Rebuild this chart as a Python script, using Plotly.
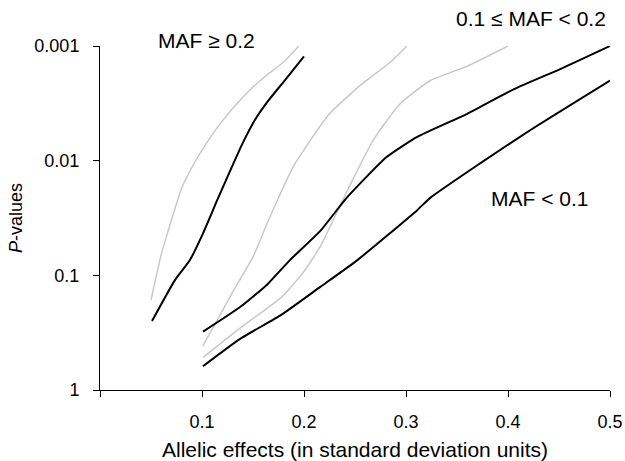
import plotly.graph_objects as go

# MAF >= 0.2
maf_hi_gray_x = [0.05, 0.06, 0.07, 0.08, 0.09, 0.10, 0.12, 0.14, 0.16, 0.18, 0.195]
maf_hi_gray_p = [0.164, 0.066, 0.033, 0.0174, 0.0115, 0.0081, 0.0045, 0.0028, 0.0019, 0.00138, 0.001]
maf_hi_black_x = [0.051, 0.0735, 0.088, 0.101, 0.115, 0.127, 0.140, 0.152, 0.165, 0.181, 0.20]
maf_hi_black_p = [0.25, 0.11, 0.074, 0.043, 0.022, 0.0126, 0.0070, 0.0044, 0.0030, 0.0020, 0.00123]

# 0.1 <= MAF < 0.2
maf_mid_gray_x = [0.101, 0.115, 0.131, 0.150, 0.164, 0.174, 0.189, 0.199, 0.225, 0.258, 0.284, 0.301]
maf_mid_gray_p = [0.41, 0.245, 0.135, 0.069, 0.035, 0.022, 0.0115, 0.0083, 0.0039, 0.0021, 0.0014, 0.001]

# MAF < 0.1
maf_lo_gray_x = [0.101, 0.137, 0.178, 0.199, 0.216, 0.238, 0.268, 0.294, 0.324, 0.36, 0.40]
maf_lo_gray_p = [0.52, 0.29, 0.155, 0.095, 0.056, 0.022, 0.0066, 0.0032, 0.002, 0.0015, 0.001]

# upper black (0.1 to 0.5)
black_a_x = [0.101, 0.137, 0.164, 0.186, 0.216, 0.242, 0.281, 0.311, 0.36, 0.405, 0.454, 0.50]
black_a_p = [0.31, 0.19, 0.12, 0.074, 0.041, 0.021, 0.0093, 0.0062, 0.0039, 0.0024, 0.00155, 0.001]

# lower black (0.1 to 0.5)
black_b_x = [0.101, 0.137, 0.178, 0.216, 0.252, 0.311, 0.324, 0.373, 0.422, 0.50]
black_b_p = [0.62, 0.36, 0.22, 0.126, 0.074, 0.027, 0.021, 0.0105, 0.0054, 0.002]

x_tickvals = [0, 0.1, 0.2, 0.3, 0.4, 0.5]
x_ticktext = ["", "0.1", "0.2", "0.3", "0.4", "0.5"]
y_tickvals = [1, 0.1, 0.01, 0.001]
y_ticktext = ["1", "0.1", "0.01", "0.001"]

GRAY = "#c8c8c8"
BLACK = "#000000"

fig = go.Figure()
for xs, ps, col, w in [
    (maf_hi_gray_x, maf_hi_gray_p, GRAY, 1.5),
    (maf_mid_gray_x, maf_mid_gray_p, GRAY, 1.5),
    (maf_lo_gray_x, maf_lo_gray_p, GRAY, 1.5),
    (maf_hi_black_x, maf_hi_black_p, BLACK, 2),
    (black_a_x, black_a_p, BLACK, 2),
    (black_b_x, black_b_p, BLACK, 2),
]:
    fig.add_trace(go.Scatter(x=xs, y=ps, mode="lines",
                             line=dict(color=col, width=w, shape="spline", smoothing=0.5),
                             showlegend=False, hoverinfo="skip", cliponaxis=False))

FONT = "Liberation Sans, Arial, sans-serif"
fig.update_layout(
    width=625, height=461,
    margin=dict(l=100, r=15, t=46, b=71, autoexpand=False),
    paper_bgcolor="white", plot_bgcolor="white",
    font=dict(family=FONT, size=18, color="black"),
    showlegend=False,
    hovermode=False,
    xaxis=dict(range=[0, 0.5], tickvals=x_tickvals, ticktext=x_ticktext,
               ticks="outside", ticklen=6, tickwidth=1, tickcolor="black",
               showline=True, linecolor="black", linewidth=1, showgrid=False,
               zeroline=False, tickfont=dict(size=18), automargin=False,
               ticklabelstandoff=9,
               title=dict(text="Allelic effects (in standard deviation units)",
                          font=dict(size=21), standoff=13)),
    yaxis=dict(type="log", range=[0, -3], tickvals=y_tickvals, ticktext=y_ticktext,
               ticks="outside", ticklen=6, tickwidth=1, tickcolor="black",
               showline=True, linecolor="black", linewidth=1, showgrid=False,
               zeroline=False, tickfont=dict(size=18), automargin=False,
               ticklabelstandoff=10,
               title=dict(text="<i>P</i>-values", font=dict(size=18), standoff=7)),
    annotations=[
        dict(text="MAF ≥ 0.2", xref="paper", yref="paper", x=0.208, y=1.015,
             showarrow=False, font=dict(size=21), xanchor="center", yanchor="middle"),
        dict(text="0.1 ≤ MAF < 0.2", xref="paper", yref="paper", x=0.845, y=1.081,
             showarrow=False, font=dict(size=21), xanchor="center", yanchor="middle"),
        dict(text="MAF < 0.1", xref="paper", yref="paper", x=0.861, y=0.558,
             showarrow=False, font=dict(size=21), xanchor="center", yanchor="middle"),
    ],
)

fig.write_html("out.html", config={"displayModeBar": False, "staticPlot": True},
               post_script="document.body.style.margin='0';document.body.style.overflow='hidden';")
